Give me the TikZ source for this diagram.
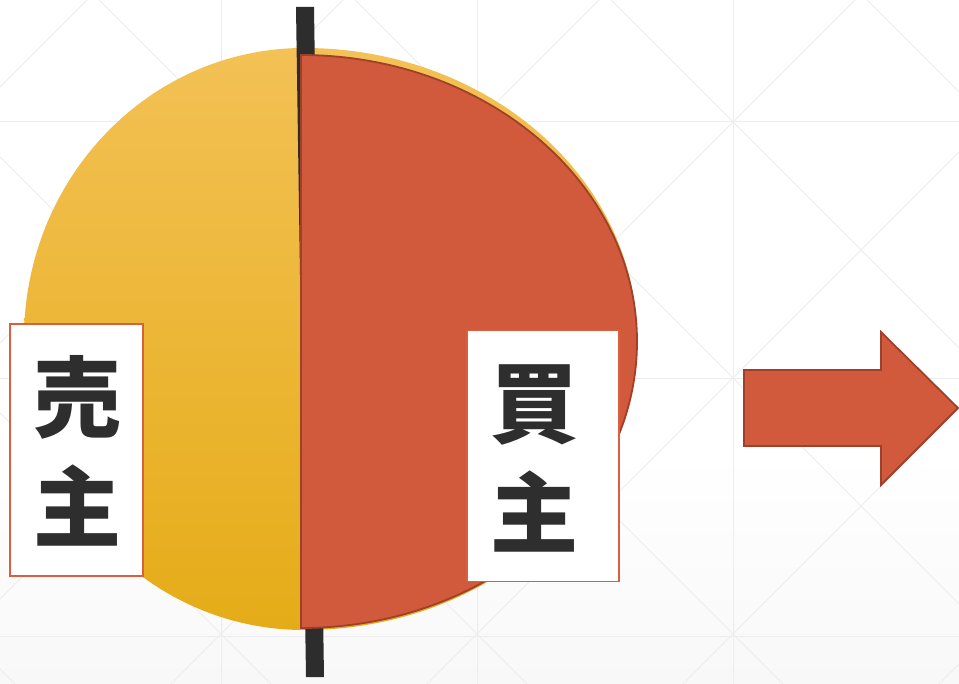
\documentclass[tikz,border=0pt]{standalone}
\usepackage{fontspec}
\newfontfamily\cjk{Noto Sans CJK JP}
\definecolor{ytop}{HTML}{F3C155}
\definecolor{ymid}{HTML}{F9BF22}
\definecolor{ybot}{HTML}{E5AC18}
\definecolor{redf}{HTML}{D15A3D}
\definecolor{redline}{HTML}{9E402A}
\definecolor{boxline}{HTML}{D95F3F}
\definecolor{textc}{HTML}{2E2E2E}
\definecolor{barc}{HTML}{2D2D2D}
\definecolor{gridc}{HTML}{EDEDED}
\definecolor{bgbot}{HTML}{F8F8F8}
\tikzset{
  gridline/.style={draw=gridc, line width=1},
  redshape/.style={fill=redf, draw=redline, line width=1.8, line join=miter},
  lbox/.style={draw=boxline, fill=white, line width=1.5, inner sep=0},
  lbl/.style={text=textc, inner sep=0, font=\cjk\bfseries\fontsize{88}{96}\selectfont}
}
\begin{document}
\begin{tikzpicture}[x=1pt,y=-1pt]
\useasboundingbox (0,0) rectangle (959,684);
\fill[white] (0,0) rectangle (959,684);
\shade[top color=white, bottom color=bgbot] (0,450) rectangle (959,684);
% background grid
\begin{scope}
\clip (0,0) rectangle (959,684);
\foreach \x in {221,477,733} \draw[gridline] (\x,0) -- (\x,684);
\foreach \y in {122,379,636} \draw[gridline] (0,\y) -- (959,\y);
\foreach \c in {-669,-413,-157,99,355,611,867} \draw[gridline] (\c-100,-100) -- (\c+1000,1000);
\foreach \d in {87,343,599,855,1111,1367,1623} \draw[gridline] (\d+100,-100) -- (\d-1000,1000);
\end{scope}
% yellow disc
\shade[top color=ytop, middle color=ymid, bottom color=ybot]
  (304,48) arc[start angle=-90, end angle=-270, x radius=280, y radius=291]
  arc[start angle=90, end angle=-90, x radius=333, y radius=291] -- cycle;
% dark bar
\fill[barc] (296,7) -- (314,7) -- (324,677) -- (306,677) -- cycle;
% red half
\path[redshape] (301,55) arc[start angle=-90, end angle=90, x radius=336, y radius=286.5] -- cycle;
% label boxes
\node[lbox, minimum width=133, minimum height=252] (sbox) at (76.5,450) {};
\node[lbox, minimum width=152, minimum height=251] (bbox) at (543,456) {};
\node[lbl] (s1) at (77,397) {売};
\node[lbl] (s2) at (77,506) {主};
\node[lbl] (b1) at (534,405) {買};
\node[lbl] (b2) at (534,512) {主};
% arrow
\path[redshape] (744,370) -- (881,370) -- (881,332) -- (958,408) -- (881,485) -- (881,446) -- (744,446) -- cycle;
\end{tikzpicture}
\end{document}
